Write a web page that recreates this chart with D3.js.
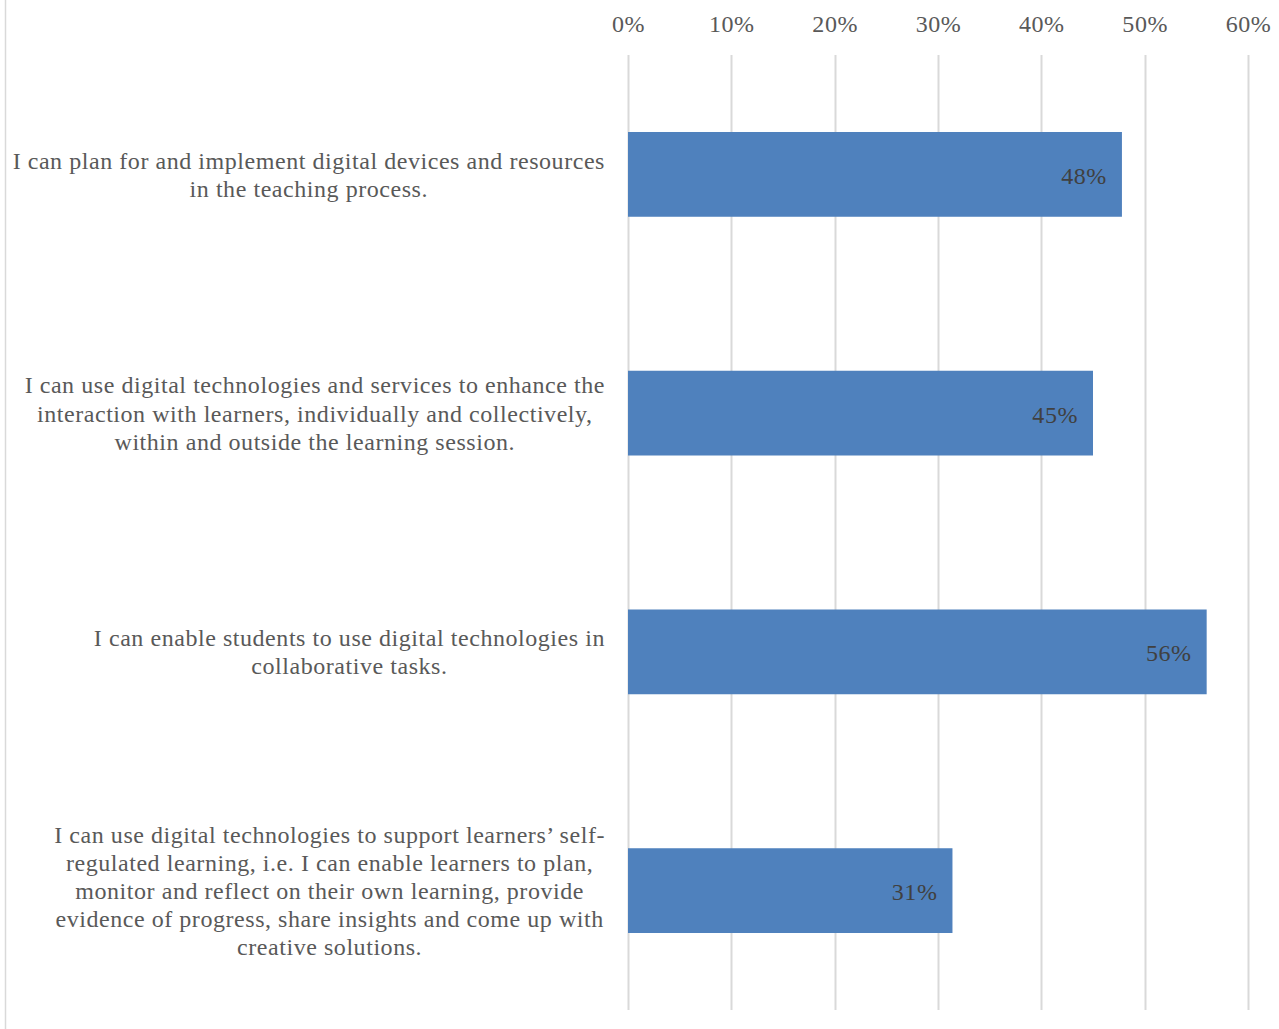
<!DOCTYPE html>
<html>
<head>
<meta charset="utf-8">
<script src="https://cdn.jsdelivr.net/npm/d3@7"></script>
<style>
  html, body { margin: 0; padding: 0; background: #fff; }
  svg { display: block; }
</style>
</head>
<body>
<svg id="chart" width="1279" height="1029"></svg>
<script>
const categories = [
  ["I can plan for and implement digital devices and resources", "in the teaching process."],
  ["I can use digital technologies and services to enhance the", "interaction with learners, individually and collectively,", "within and outside the learning session."],
  ["I can enable students to use digital technologies in", "collaborative tasks."],
  ["I can use digital technologies to support learners’ self-", "regulated learning, i.e. I can enable learners to plan,", "monitor and reflect on their own learning, provide", "evidence of progress, share insights and come up with", "creative solutions."]
];
const values = [0.478, 0.45, 0.56, 0.314];
const tickValues = [0, 0.1, 0.2, 0.3, 0.4, 0.5, 0.6];

const FONT = "'Liberation Serif', 'DejaVu Serif', serif";
const FS = 24, LS = 0.55;
const svg = d3.select("#chart");
const W = 1279, H = 1029;
const plot = { left: 628, right: 1248, top: 55, bottom: 1010 };

const x = d3.scaleLinear().domain([0, 0.6]).range([plot.left, plot.right]);
const y = d3.scaleBand().domain(d3.range(categories.length))
  .range([plot.top, plot.bottom]).paddingInner(0.645).paddingOuter(0.3225);

// outer border (left edge visible)
svg.append("line").attr("x1", 5.5).attr("x2", 5.5).attr("y1", 0).attr("y2", H)
  .attr("stroke", "#d9d9d9").attr("stroke-width", 1.5);

// gridlines
svg.append("g").selectAll("line").data(tickValues).join("line")
  .attr("x1", d => Math.round(x(d)) + 0.5).attr("x2", d => Math.round(x(d)) + 0.5)
  .attr("y1", plot.top).attr("y2", plot.bottom)
  .attr("stroke", "#d9d9d9").attr("stroke-width", 2);

// top axis labels
const axis = d3.axisTop(x).tickValues(tickValues).tickFormat(d3.format(".0%")).tickSize(0).tickPadding(0);
const gAxis = svg.append("g").attr("transform", "translate(0,32)").call(axis);
gAxis.select(".domain").remove();
gAxis.selectAll("text").attr("font-family", FONT).attr("font-size", FS)
  .attr("letter-spacing", LS).attr("fill", "#595959");

// bars
svg.append("g").selectAll("rect").data(values).join("rect")
  .attr("x", x(0)).attr("y", (d, i) => y(i))
  .attr("width", d => x(d) - x(0)).attr("height", y.bandwidth())
  .attr("fill", "#4f81bd");

// value labels
svg.append("g").selectAll("text").data(values).join("text")
  .attr("x", d => x(d) - 15).attr("y", (d, i) => y(i) + y.bandwidth() / 2 + 1)
  .attr("dy", "0.35em").attr("text-anchor", "end")
  .attr("font-family", FONT).attr("font-size", FS).attr("letter-spacing", LS).attr("fill", "#404040")
  .text(d => d3.format(".0%")(d));

// category labels
const lineH = 28.2;
const labelRight = 605;
categories.forEach((lines, i) => {
  const cy = y(i) + y.bandwidth() / 2;
  const g = svg.append("g");
  const texts = g.selectAll("text").data(lines).join("text")
    .attr("y", (d, j) => cy + (j - (lines.length - 1) / 2) * lineH)
    .attr("dy", "0.35em").attr("text-anchor", "middle")
    .attr("font-family", FONT).attr("font-size", FS).attr("letter-spacing", LS).attr("fill", "#595959")
    .text(d => d);
  let maxW = 0;
  texts.each(function () { maxW = Math.max(maxW, this.getComputedTextLength()); });
  texts.attr("x", labelRight - maxW / 2);
});
</script>
</body>
</html>
